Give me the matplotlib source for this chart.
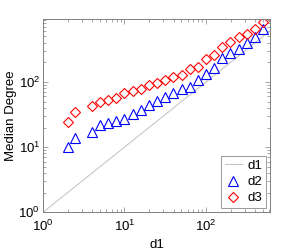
import numpy as np
import matplotlib.pyplot as plt

plt.rcParams['font.family'] = ['Liberation Sans', 'DejaVu Sans']
plt.rcParams['mathtext.fontset'] = 'custom'
plt.rcParams['mathtext.rm'] = 'Liberation Sans'
plt.rcParams['mathtext.it'] = 'Liberation Sans'

# degree bins (log spaced, 10 per decade)
d1 = [2.0, 2.5, 4.0, 5.0, 6.3, 7.9, 10.0, 12.6, 15.8, 20.0, 25.1, 31.6, 39.8,
      50.1, 63.1, 79.4, 100.0, 125.9, 158.5, 199.5, 251.2, 316.2, 398.1, 501.2]
d2 = [10.1, 13.6, 17.2, 21.6, 23.7, 25.1, 26.7, 32.2, 37.1, 44.2, 50.9, 58.0,
      68.8, 77.8, 84.4, 107, 131, 162, 230, 275, 316, 399, 493, 641]
d3 = [24.0, 34.9, 43.1, 48.7, 52.8, 57.6, 66.8, 73.3, 77.0, 89.6, 97.2, 107,
      121, 128, 158, 171, 222, 259, 340, 414, 493, 543, 641, 838]
x_max = 610
y_max = 935

fig = plt.figure(figsize=(2.99, 2.5), dpi=100)
ax = fig.add_axes([0.1438, 0.1508, 0.7592, 0.7742])

ax.plot([1, x_max], [1, x_max], color='#c0c0c0', linewidth=0.7, label='d1')
ax.plot(d1, d2, linestyle='none', marker='^', markersize=7, markerfacecolor='none',
        markeredgecolor='blue', markeredgewidth=0.8, label='d2')
ax.plot(d1, d3, linestyle='none', marker='D', markersize=5, markerfacecolor='none',
        markeredgecolor='red', markeredgewidth=0.8, label='d3')

ax.set_xscale('log')
ax.set_yscale('log')
ax.set_xlim(1, x_max)
ax.set_ylim(1, y_max)

ax.set_xlabel('d1', fontsize=9.5, labelpad=3)
ax.set_ylabel('Median Degree', fontsize=9.5, labelpad=1)

for s in ax.spines.values():
    s.set_color('#808080')
    s.set_linewidth(0.7)
ax.tick_params(which='both', direction='in', top=True, right=True, color='#808080',
               labelsize=9.5, width=0.5)
ax.tick_params(which='major', length=3.5)
ax.tick_params(which='minor', length=2)
ax.tick_params(axis='x', which='major', pad=5)
ax.tick_params(axis='y', which='major', pad=2)

leg = ax.legend(loc='lower right', fontsize=9.5, frameon=True, fancybox=False,
                handlelength=1.3, borderpad=0.3, labelspacing=0.3, handletextpad=0.4,
                borderaxespad=0.3)
leg.get_frame().set_edgecolor('#808080')
leg.get_frame().set_linewidth(0.7)

plt.savefig('out.png', dpi=100)
